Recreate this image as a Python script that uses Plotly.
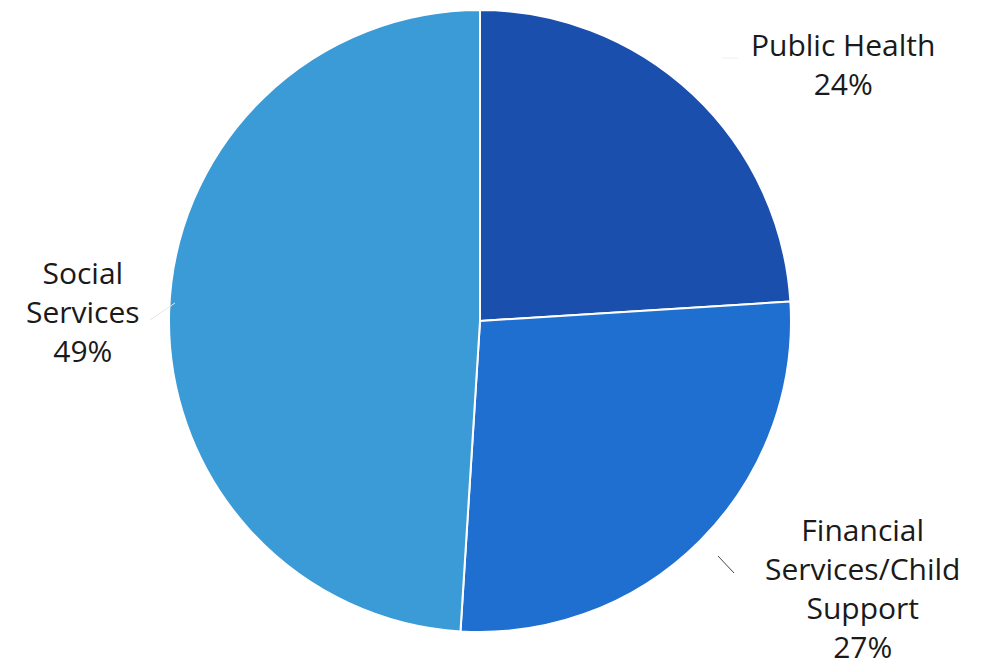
import plotly.graph_objects as go

categories = ["Public Health", "Financial Services/Child Support", "Social Services"]
values = [24, 27, 49]
label_texts = ["Public Health<br>24%", "Financial<br>Services/Child<br>Support<br>27%", "Social<br>Services<br>49%"]
colors = ["#1b4fae", "#1f6fd0", "#3a9bd6"]

W, H = 991, 667
cx, cy, r = 480, 321, 311

fig = go.Figure(go.Pie(
    labels=categories,
    values=values,
    sort=False,
    direction="clockwise",
    rotation=0,
    marker=dict(colors=colors, line=dict(color="white", width=2)),
    textinfo="none",
    hoverinfo="label+percent",
    domain=dict(x=[(cx - r) / W, (cx + r) / W], y=[1 - (cy + r) / H, 1 - (cy - r) / H]),
    showlegend=False,
))

# label anchor positions (pixels)
label_pos = [(843, 64), (862, 588), (83, 311)]
for txt, (x, y) in zip(label_texts, label_pos):
    fig.add_annotation(
        x=x / W, y=1 - y / H, xref="paper", yref="paper",
        text=txt, showarrow=False, xanchor="center", yanchor="middle",
        font=dict(family="'Open Sans', Lato, sans-serif", size=30, color="#1a1a1a"),
        align="center",
    )

# leader lines
leaders = [((718, 556), (734, 573), "#444444"), ((150, 320), (175, 303), "#e6e6e6"), ((722, 58), (738, 58), "#eeeeee")]
for (x0, y0), (x1, y1), c in leaders:
    fig.add_shape(type="line", xref="paper", yref="paper",
                  x0=x0 / W, y0=1 - y0 / H, x1=x1 / W, y1=1 - y1 / H,
                  line=dict(color=c, width=1))

fig.update_layout(
    width=W, height=H,
    margin=dict(l=0, r=0, t=0, b=0),
    paper_bgcolor="white", plot_bgcolor="white",
)

fig.write_html("out.html", config={"displayModeBar": False},
               post_script="document.body.style.margin='0';document.body.style.overflow='hidden';")
